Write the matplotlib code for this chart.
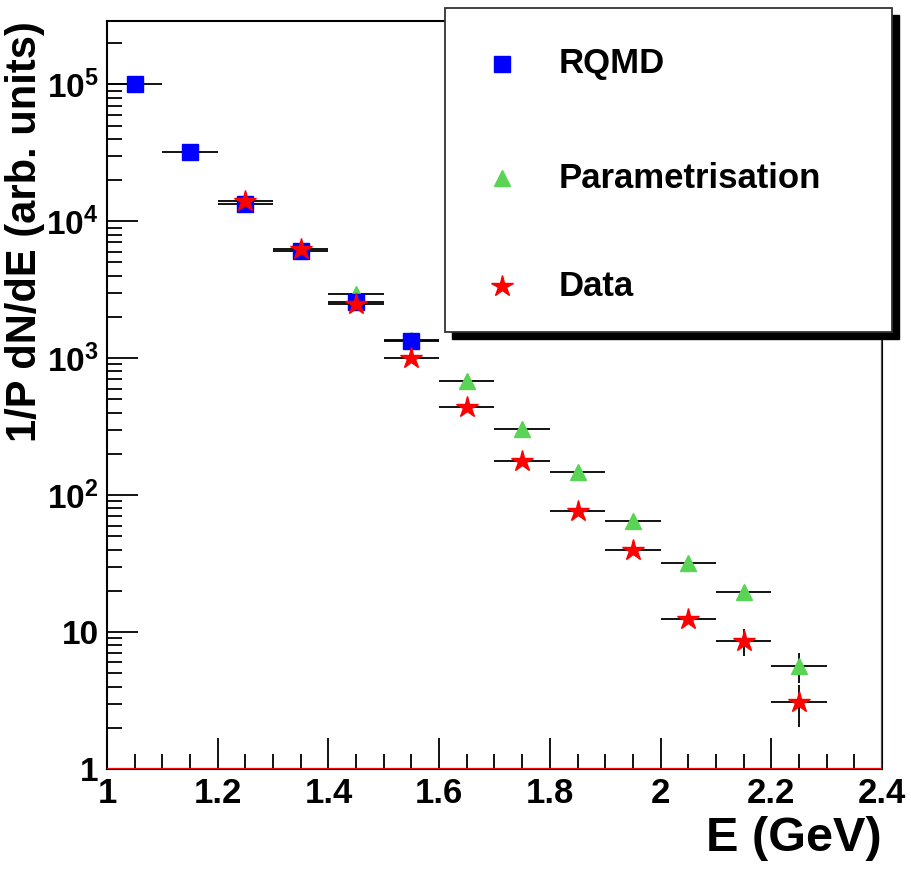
import matplotlib.pyplot as plt
from matplotlib.patches import Rectangle
from matplotlib.lines import Line2D
from matplotlib.ticker import FixedLocator, LogLocator, MultipleLocator, NullFormatter

plt.rcParams['font.family'] = ['Liberation Sans', 'DejaVu Sans']
plt.rcParams['font.weight'] = 'bold'
plt.rcParams['mathtext.fontset'] = 'custom'
plt.rcParams['mathtext.rm'] = 'Liberation Sans:bold'
plt.rcParams['mathtext.bf'] = 'Liberation Sans:bold'
plt.rcParams['mathtext.it'] = 'Liberation Sans:bold'

# --- data ---
rqmd_e = [1.05, 1.15, 1.25, 1.35, 1.45, 1.55]
rqmd_y = [1.0e5, 3.19e4, 1.33e4, 6.1e3, 2.56e3, 1.33e3]

par_e = [1.45, 1.55, 1.65, 1.75, 1.85, 1.95, 2.05, 2.15, 2.25]
par_y = [2930, 1350, 679, 303, 147, 64.6, 31.9, 19.6, 5.65]
par_err = [150, 60, 20, 8, 4, 2.5, 1.2, 1.0, 1.4]

data_e = [1.25, 1.35, 1.45, 1.55, 1.65, 1.75, 1.85, 1.95, 2.05, 2.15, 2.25]
data_y = [1.4e4, 6.3e3, 2.48e3, 1.0e3, 439, 177, 76.4, 39.7, 12.4, 8.6, 3.08]
data_err = [600, 300, 250, 40, 15, 8, 3, 2.5, 0.6, 1.9, 1.05]

bin_half = 0.05

x_ticks = [1.0, 1.2, 1.4, 1.6, 1.8, 2.0, 2.2, 2.4]
x_ticklabels = ['1', '1.2', '1.4', '1.6', '1.8', '2', '2.2', '2.4']
y_ticks = [1, 10, 100, 1e3, 1e4, 1e5]
y_ticklabels = ['1', '10', r'$10^{2}$', r'$10^{3}$', r'$10^{4}$', r'$10^{5}$']

fig = plt.figure(figsize=(9.12, 8.71), dpi=100)
ax = fig.add_axes([0.1173, 0.1171, 0.8498, 0.8588])

# parametrisation first, rqmd over it, data on top
ax.errorbar(par_e, par_y, xerr=bin_half, yerr=par_err, fmt='^', color='#59d454',
            ms=11.5, mec='#59d454', ecolor='black', elinewidth=1.3, capsize=0, zorder=3)
ax.errorbar(rqmd_e, rqmd_y, xerr=bin_half, fmt='s', color='#0000ff',
            ms=11.5, mec='#0000ff', ecolor='black', elinewidth=1.3, capsize=0, zorder=4)
ax.errorbar(data_e, data_y, xerr=bin_half, yerr=data_err, fmt='*', color='#ff0000',
            ms=16, mec='#ff0000', ecolor='black', elinewidth=1.3, capsize=0, zorder=5)

ax.set_yscale('log')
ax.set_xlim(1, 2.4)
ax.set_ylim(1, 2.9e5)

ax.axhline(1, color='red', lw=1.5, zorder=6)
ax.axvline(2.4, color='red', lw=1.5, zorder=6)

for s in ax.spines.values():
    s.set_linewidth(1.5)

ax.xaxis.set_major_locator(FixedLocator(x_ticks))
ax.xaxis.set_minor_locator(MultipleLocator(0.05))
ax.set_xticklabels(x_ticklabels)
ax.yaxis.set_major_locator(FixedLocator(y_ticks))
ax.yaxis.set_minor_locator(LogLocator(base=10, subs=range(2, 10)))
ax.yaxis.set_minor_formatter(NullFormatter())
ax.set_yticklabels(y_ticklabels)

ax.tick_params(which='both', direction='in', top=False, right=False, width=1.3)
ax.tick_params(which='major', length=22)
ax.tick_params(which='minor', length=11)
ax.tick_params(axis='x', pad=6, labelsize=25)
ax.tick_params(axis='y', pad=6, labelsize=24)

ax.set_ylabel('1/P dN/dE (arb. units)', fontsize=30, fontweight='bold', loc='top')
ax.yaxis.set_label_coords(-0.08, 1.0)
ax.set_xlabel('E (GeV)', fontsize=35, fontweight='bold', loc='right')

# legend box with hard shadow, partly outside the axes
W, H = 912, 871
bx0, by0, bx1, by1 = 445, 8, 892, 332
fig.add_artist(Rectangle(((bx0 + 7) / W, 1 - (by1 + 7) / H), (bx1 - bx0) / W, (by1 - by0) / H,
                         transform=fig.transFigure, facecolor='black', edgecolor='black', zorder=10))
fig.add_artist(Rectangle((bx0 / W, 1 - by1 / H), (bx1 - bx0) / W, (by1 - by0) / H,
                         transform=fig.transFigure, facecolor='white', edgecolor='#333333',
                         lw=1.3, zorder=11))

leg_labels = ['RQMD', 'Parametrisation', 'Data']
leg_marks = [('s', '#0000ff', 11.5), ('^', '#59d454', 11.5), ('*', '#ff0000', 16)]
leg_rows = [64, 178, 286]
for lab, (m, c, ms), yy in zip(leg_labels, leg_marks, leg_rows):
    fig.add_artist(Line2D([502 / W], [1 - yy / H], marker=m, color=c, ms=ms, mec=c,
                          ls='none', transform=fig.transFigure, zorder=12))
    fig.text(559 / W, 1 - yy / H, lab, fontsize=25, fontweight='bold',
             va='center', ha='left', zorder=12)

fig.savefig('out.png', dpi=100)
